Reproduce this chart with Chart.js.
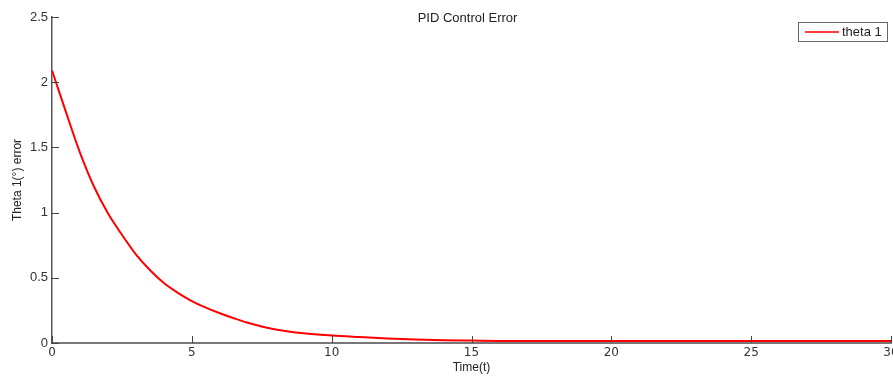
<!DOCTYPE html>
<html>
<head>
<meta charset="utf-8">
<script src="https://cdn.jsdelivr.net/npm/chart.js@4.4.1/dist/chart.umd.min.js"></script>
<style>
  html, body { margin: 0; padding: 0; background: #fff; }
  #wrap { width: 893px; height: 376px; }
</style>
</head>
<body>
<div id="wrap"><canvas id="errChart"></canvas></div>
<script>
// sampled error of joint 1 under PID control
const timeValues = [0, 0.5, 1, 1.5, 2, 2.5, 3, 3.5, 4, 4.5, 5, 5.5, 6, 6.5, 7, 7.5, 8, 9, 10, 11, 12, 13, 14, 15, 16, 18, 20, 25, 30];
const errorValues = [2.09, 1.77, 1.46, 1.20, 0.995, 0.83, 0.68, 0.56, 0.46, 0.385, 0.322, 0.271, 0.228, 0.19, 0.155, 0.127, 0.104, 0.075, 0.058, 0.046, 0.035, 0.027, 0.022, 0.019, 0.016, 0.015, 0.015, 0.015, 0.015];
const xTicks = [0, 5, 10, 15, 20, 25, 30];
const yTicks = [0, 0.5, 1, 1.5, 2, 2.5];
const seriesName = 'theta 1';
const chartTitle = 'PID Control Error';

const points = timeValues.map((t, i) => ({ x: t, y: errorValues[i] }));

// MATLAB style ticks pointing into the plot, plus title and legend box
const matlabDecor = {
  id: 'matlabDecor',
  afterDatasetsDraw(chart) {
    const { ctx, chartArea, scales } = chart;
    const xs = scales.x, ys = scales.y;
    ctx.save();
    ctx.strokeStyle = '#444';
    ctx.lineWidth = 1;
    xTicks.forEach(v => {
      const px = Math.round(xs.getPixelForValue(v)) + 0.5;
      ctx.beginPath();
      ctx.moveTo(px, chartArea.bottom);
      ctx.lineTo(px, chartArea.bottom - 7);
      ctx.stroke();
    });
    yTicks.forEach(v => {
      const py = Math.round(ys.getPixelForValue(v)) + 0.5;
      ctx.beginPath();
      ctx.moveTo(chartArea.left, py);
      ctx.lineTo(chartArea.left + 7, py);
      ctx.stroke();
    });

    // title
    ctx.fillStyle = '#222';
    ctx.font = '13px "Liberation Sans", Arial, sans-serif';
    ctx.textAlign = 'center';
    ctx.textBaseline = 'middle';
    ctx.fillText(chartTitle, (chartArea.left + chartArea.right) / 2 - 4, 18);

    // legend
    const ds = chart.data.datasets[0];
    const bx = 798.5, by = 22.5, bw = 89, bh = 19;
    ctx.fillStyle = '#fff';
    ctx.fillRect(bx, by, bw, bh);
    ctx.strokeStyle = '#666';
    ctx.strokeRect(bx, by, bw, bh);
    ctx.strokeStyle = ds.borderColor;
    ctx.lineWidth = 1.6;
    ctx.beginPath();
    ctx.moveTo(805, by + bh / 2);
    ctx.lineTo(839, by + bh / 2);
    ctx.stroke();
    ctx.fillStyle = '#222';
    ctx.textAlign = 'left';
    ctx.fillText(ds.label, 842, by + bh / 2 + 0.5);
    ctx.restore();
  }
};

new Chart(document.getElementById('errChart'), {
  type: 'line',
  data: {
    datasets: [{
      label: seriesName,
      data: points,
      borderColor: '#ff0000',
      borderWidth: 2,
      pointRadius: 0,
      cubicInterpolationMode: 'monotone',
      fill: false
    }]
  },
  options: {
    responsive: true,
    maintainAspectRatio: false,
    animation: false,
    layout: { padding: { top: 17, right: 2, left: 0, bottom: 0 } },
    plugins: {
      legend: { display: false },
      title: { display: false },
      tooltip: { enabled: false }
    },
    scales: {
      x: {
        type: 'linear',
        min: 0,
        max: 30,
        afterBuildTicks: (scale) => { scale.ticks = xTicks.map(v => ({ value: v })); },
        afterFit: (scale) => {
          scale.height = 33;
          scale.paddingLeft = 0;
          scale.paddingRight = 0;
        },
        grid: { display: false, drawTicks: false },
        border: { display: true, color: '#777', width: 2 },
        ticks: {
          padding: 3,
          maxRotation: 0,
          autoSkip: false,
          color: '#333',
          callback: (v) => String(v),
          font: { family: '"DejaVu Sans", Verdana, sans-serif', size: 12 }
        },
        title: {
          display: true,
          text: 'Time(t)',
          color: '#222',
          padding: { top: 0, bottom: 1 },
          font: { family: '"Liberation Sans", Arial, sans-serif', size: 12 }
        }
      },
      y: {
        min: 0,
        max: 2.5,
        afterBuildTicks: (scale) => { scale.ticks = yTicks.map(v => ({ value: v })); },
        afterFit: (scale) => {
          scale.width = 52;
          scale.paddingTop = 0;
          scale.paddingBottom = 0;
        },
        grid: { display: false, drawTicks: false },
        border: { display: true, color: '#555', width: 1.5 },
        ticks: {
          padding: 4,
          color: '#333',
          callback: (v) => String(v),
          font: { family: '"Liberation Sans", Arial, sans-serif', size: 13 }
        },
        title: {
          display: true,
          text: 'Theta 1(°) error',
          color: '#222',
          padding: { top: 10, bottom: 0 },
          font: { family: '"Liberation Sans", Arial, sans-serif', size: 12 }
        }
      }
    }
  },
  plugins: [matlabDecor]
});
</script>
</body>
</html>
